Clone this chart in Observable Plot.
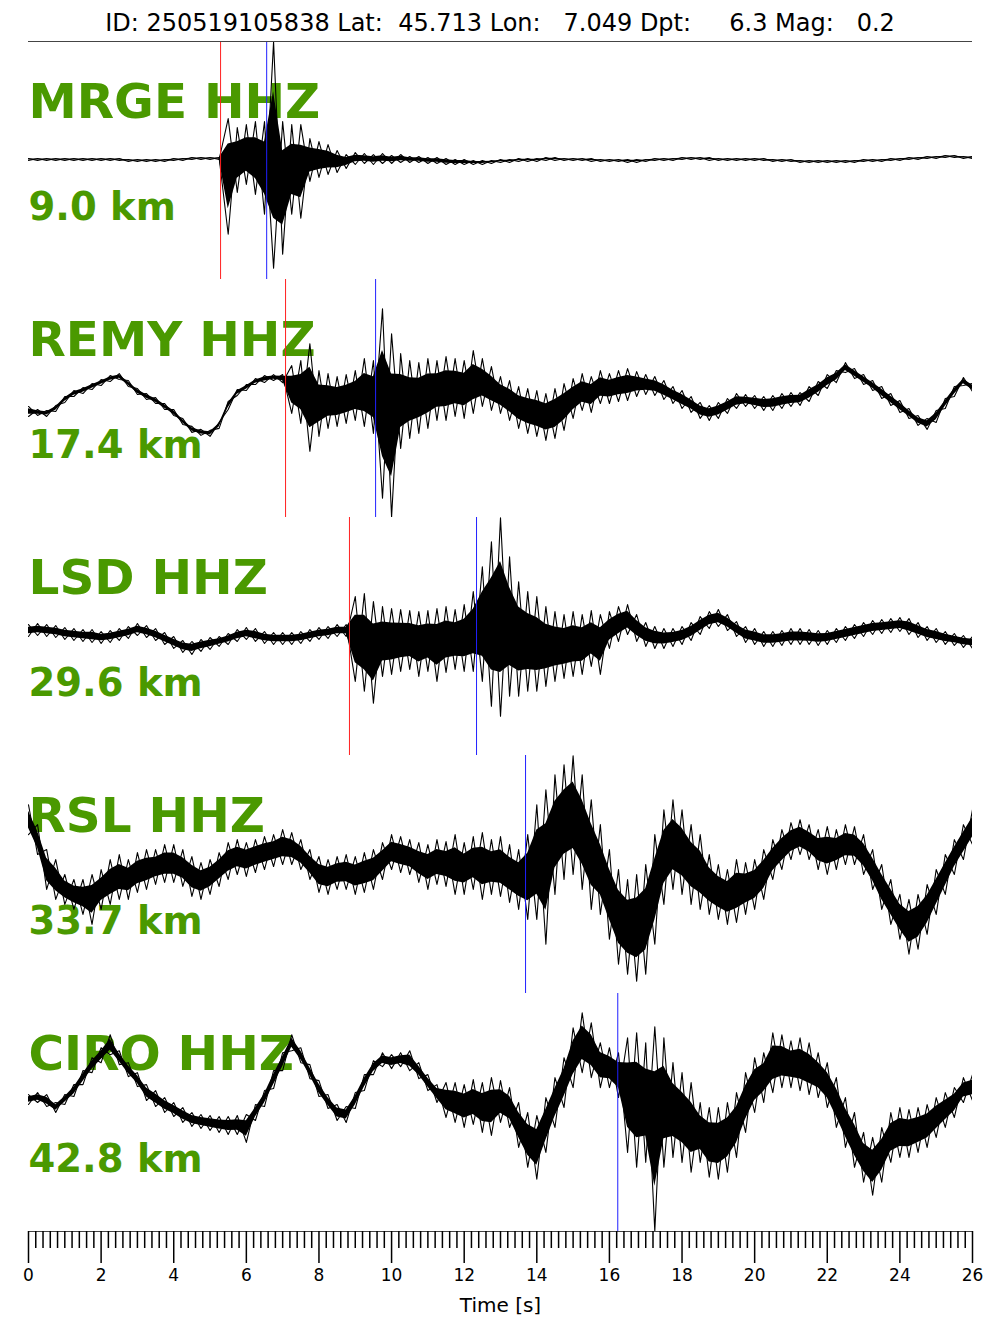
<!DOCTYPE html>
<html>
<head>
<meta charset="utf-8">
<script src="https://cdn.jsdelivr.net/npm/d3@7"></script>
<script src="https://cdn.jsdelivr.net/npm/@observablehq/plot@0.6"></script>
<style>
  body { margin: 0; background: white; font-family: "DejaVu Sans", sans-serif; }
  #title { width: 1000px; height: 39px; box-sizing: border-box; padding-top: 9px; line-height: 28px;
           font-size: 24px; text-align: center; white-space: pre; color: #000; }
</style>
</head>
<body>
<div id="title">ID: 250519105838 Lat:  45.713 Lon:   7.049 Dpt:     6.3 Mag:   0.2</div>
<div id="chart"></div>
<script>
// ---- data ----
const stations = ["MRGE", "REMY", "LSD", "RSL", "CIRO"];
const channel = "HHZ";
const distances = ["9.0 km", "17.4 km", "29.6 km", "33.7 km", "42.8 km"];
const pPicks = [{station: "MRGE", t: 5.29}, {station: "REMY", t: 7.08}, {station: "LSD", t: 8.84}];
const sPicks = [{station: "MRGE", t: 6.56}, {station: "REMY", t: 9.56}, {station: "LSD", t: 12.34},
                {station: "RSL", t: 13.69}, {station: "CIRO", t: 16.23}];
const majorTicks = [0, 2, 4, 6, 8, 10, 12, 14, 16, 18, 20, 22, 24, 26];
const sampleStep = 0.25; // seconds between envelope samples (t = 0 … 26)

// envelope of each trace (upper / lower extreme per sample), amplitude units
const mrgeHi = [2,2,2,2, 2,2,2,2, 2,2,2,1, 1,1,1,1, 2,2,3,3,
  3,3,42,33, 36,39,39,119, 39,36,36,22, 19,16,10,6,
  8,7,6,7, 5,6,4,4, 3,3,2,1, 1,0,0,0,
  1,1,2,2, 2,3,3,2, 2,2,2,1, 1,1,1,1,
  1,2,2,2, 3,3,3,3, 2,2,2,2, 2,2,1,1,
  1,0,0,0, 0,0,0,0, 1,1,1,2, 2,3,3,4,
  4,5,5,4, 4];
const mrgeLo = [0,0,0,0, 0,0,0,0, 0,0,0,-1, -1,-1,-1,-1, 0,0,1,1,
  1,1,-74,-32, -24,-34,-54,-108, -94,-54,-58,-21, -17,-14,-12,-8,
  -4,-3,-4,-3, -3,-2,-2,-2, -3,-3,-4,-4, -4,-4,-4,-3,
  -2,-2,-1,-1, -1,0,0,0, 0,0,-1,-1, -1,-1,-2,-2,
  -1,0,0,0, 1,1,1,0, 0,0,0,0, 0,0,-1,-1,
  -1,-2,-2,-2, -2,-2,-2,-2, -1,-1,-1,0, 0,1,1,2,
  2,3,3,2, 2];
const remyHi = [-8,-11,-12,-7, 2,8,11,15, 19,23,25,18, 10,5,1,-5, -11,-20,-28,-31,
  -32,-24,-3,9, 14,20,23,24, 24,33,38,55, 28,25,22,24,
  28,40,38,90, 65,45,38,36, 40,38,42,40, 38,48,40,32,
  22,18,12,10, 8,5,10,15, 20,25,22,28, 25,28,30,27,
  24,22,18,12, 8,2,-4,-7, -4,0,5,4, 3,2,3,5,
  6,6,12,17, 24,28,36,30, 24,18,12,5, -2,-10,-17,-20,
  -12,0,12,21, 15];
const remyLo = [-18,-17,-18,-13, -4,2,5,9, 13,17,19,12, 4,-1,-5,-11, -17,-26,-34,-37,
  -38,-30,-11,3, 8,14,16,18, 16,-15,-25,-53, -38,-30,-28,-25,
  -22,-28,-35,-100, -119,-50,-40,-35, -30,-22,-22,-18, -20,-15,-8,-12,
  -15,-22,-30,-35, -38,-42,-40,-32, -20,-12,-14,-5, -5,-3,-2,2,
  4,3,-1,-5, -10,-14,-20,-22, -20,-15,-10,-8, -10,-12,-12,-10,
  -8,-7,-3,3, 10,16,26,20, 14,8,0,-7, -14,-20,-27,-31,
  -24,-10,2,13, 7];
const lsdHi = [12,13,12,11, 9,8,7,7, 5,6,8,10, 13,11,8,4, 0,-4,-5,-3,
  -1,0,3,7, 9,8,5,4, 4,4,5,7, 9,10,12,12,
  40,43,35,30, 28,27,26,25, 26,28,30,27, 32,45,70,95,
  119,80,55,45, 40,30,25,22, 25,22,26,22, 25,30,32,22,
  14,10,8,8, 10,14,20,25, 27,22,15,10, 8,5,5,6,
  8,8,7,6, 6,8,10,12, 14,16,17,18, 19,18,14,10,
  8,5,3,1, 0];
const lsdLo = [0,1,0,-1, -3,-4,-5,-6, -7,-6,-4,-2, 1,-1,-4,-8, -12,-16,-18,-15,
  -13,-10,-8,-5, -3,-5,-7,-8, -8,-8,-7,-5, -3,-2,0,0,
  -45,-55,-67,-40, -38,-35,-33,-40, -35,-45,-36,-33, -35,-35,-45,-70,
  -80,-60,-60,-55, -55,-50,-45,-42, -40,-38,-30,-38, -12,-5,2,-5,
  -10,-12,-12,-10, -8,-4,2,8, 10,6,0,-6, -8,-10,-10,-9,
  -8,-8,-8,-9, -8,-6,-4,-2, 0,2,3,4, 5,2,-1,-4,
  -6,-8,-9,-11, -12];
const rslHi = [70,50,25,15, 0,-5,-5,0, 5,15,20,15, 22,25,25,30, 30,25,18,12,
  15,22,32,35, 32,35,38,40, 45,42,35,25, 18,15,18,20,
  18,22,25,32, 40,38,35,32, 30,35,33,40, 32,38,42,35,
  38,30,25,40, 70,85,100,110, 119,100,75,50, 25,5,-5,0,
  10,40,65,75, 65,50,40,20, 10,5,15,12, 15,25,35,45,
  52,55,50,45, 48,45,50,48, 40,25,10,-5, -20,-25,-20,-10,
  5,20,35,50, 65];
const rslLo = [40,20,-15,-25, -30,-35,-40,-50, -35,-30,-25,-25, -18,-15,-10,-8, -8,-12,-22,-25,
  -20,-12,-5,0, -2,2,5,8, 10,10,5,-5, -18,-20,-15,-15,
  -20,-18,-15,-5, 5,2,0,-8, -15,-10,-12,-20, -20,-15,-25,-20,
  -22,-28,-35,-45, -45,-70,-20,-5, 0,-15,-35,-40, -65,-90,-100,-107,
  -100,-70,-30,-15, -20,-30,-35,-40, -45,-50,-48,-40, -35,-25,-5,5,
  15,20,15,5, 0,5,10,10, 0,-15,-35,-50, -65,-80,-75,-60,
  -40,-20,0,15, 30];
const ciroHi = [18,20,18,10, 18,28,42,55, 65,78,62,50, 40,28,22,15, 10,5,0,-2,
  -3,-4,-4,-3, -2,8,22,42, 60,78,65,48, 32,18,8,6,
  20,38,52,60, 58,60,62,50, 38,28,30,30, 28,33,30,35,
  32,25,10,0, -3,15,35,55, 85,100,90,70, 65,60,75,80,
  70,86,75,50, 40,30,10,5, 5,10,20,40, 55,60,80,78,
  72,75,70,60, 50,35,15,0, -20,-25,-15,0, 5,3,5,8,
  15,20,25,35, 38];
const ciroLo = [8,10,6,0, 8,16,28,40, 50,58,48,36, 26,12,6,0, -4,-10,-14,-16,
  -18,-20,-22,-22, -30,-8,6,24, 42,62,50,34, 16,4,-8,-10,
  4,22,38,46, 44,46,42,34, 22,10,-5,-10, -15,-12,-20,-23,
  -10,-15,-35,-55, -67,-40,-15,5, 25,40,35,25, 25,15,-40,-55,
  -50,-119,-55,-45, -50,-60,-50,-65, -67,-60,-45,-20, 0,10,20,25,
  25,22,18,15, 5,-15,-35,-55, -70,-83,-70,-50, -45,-45,-40,-35,
  -25,-15,-5,10, 12];

// ---- build tables ----
const envelopes = {
  MRGE: [mrgeHi, mrgeLo], REMY: [remyHi, remyLo], LSD: [lsdHi, lsdLo],
  RSL: [rslHi, rslLo], CIRO: [ciroHi, ciroLo]
};
const rows = stations.flatMap(s => {
  const [hi, lo] = envelopes[s];
  return hi.map((h, i) => ({station: s, t: i * sampleStep, hi: h, lo: lo[i], i}));
});
// dense core of each trace (inner part of the envelope) and spiky excursions to the extremes
const coreShare = 0.22;
const coreHi = d => d.hi - (d.hi - d.lo) * coreShare;
const coreLo = d => d.lo + (d.hi - d.lo) * coreShare;
const labelRows = stations.map((s, i) => ({station: s, name: `${s} ${channel}`, dist: distances[i]}));
const minorTicks = d3.range(131).map(i => i / 5).filter(v => !majorTicks.includes(v));
const yDomain = [-119.4, 119.4];
const green = "#4a9900";

const chart = Plot.plot({
  width: 1000,
  height: 1294,
  marginLeft: 28,
  marginRight: 28,
  marginTop: 0,
  marginBottom: 100,
  style: {fontFamily: "DejaVu Sans", fontSize: "16px", background: "white", color: "black"},
  x: {domain: [0, 26]},
  y: {domain: yDomain, axis: null},
  fy: {domain: stations, padding: 0, axis: null},
  marks: [
    Plot.text(labelRows, {fy: "station", text: "name", frameAnchor: "top-left", lineAnchor: "top",
      dy: 42, fontSize: 48.5, fontWeight: "bold", fill: green}),
    Plot.text(labelRows, {fy: "station", text: "dist", frameAnchor: "top-left", lineAnchor: "top",
      dy: 151, fontSize: 38.5, fontWeight: "bold", fill: green}),
    Plot.areaY(rows, {x: "t", y1: coreLo, y2: coreHi, fy: "station", z: "station",
      fill: "black", clip: true}),
    Plot.line(rows, {x: "t", y: d => (d.i % 2 ? d.lo : d.hi), fy: "station", z: "station",
      stroke: "black", strokeWidth: 1.1, clip: true}),
    Plot.line(rows, {x: "t", y: d => (d.i % 2 ? d.hi : d.lo), fy: "station", z: "station",
      stroke: "black", strokeWidth: 1.1, clip: true}),
    Plot.ruleX(pPicks, {x: "t", fy: "station", stroke: "#ff2020", strokeWidth: 1}),
    Plot.ruleX(sPicks, {x: "t", fy: "station", stroke: "#2020ff", strokeWidth: 1}),
    Plot.ruleY([{station: stations[0], y: yDomain[1]}], {y: "y", fy: "station", stroke: "#444", strokeWidth: 1.2}),
    Plot.ruleY([{station: stations[stations.length - 1], y: yDomain[0]}], {y: "y", fy: "station", stroke: "#444", strokeWidth: 1.2}),
    Plot.axisX(minorTicks, {tickSize: 17, tickFormat: () => "", strokeWidth: 1.5, label: null}),
    Plot.axisX(majorTicks, {tickSize: 32, tickPadding: 5, fontSize: 17, strokeWidth: 1.5,
      label: "Time [s]", labelAnchor: "center", labelOffset: 80, labelArrow: "none"})
  ]
});
chart.querySelectorAll('[aria-label="x-axis label"] text, [aria-label="x-axis label"]').forEach(el => el.setAttribute("font-size", "20"));
document.getElementById("chart").appendChild(chart);
</script>
</body>
</html>
